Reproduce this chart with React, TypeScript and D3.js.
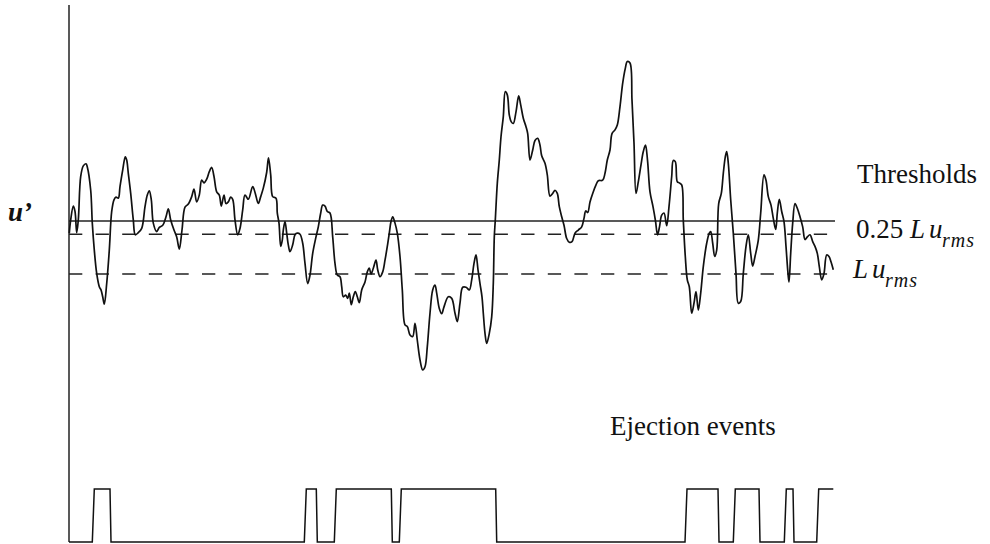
import React from "react";
import * as d3 from "d3";

// Streamwise velocity fluctuation u' (in units of L·u_rms) sampled over time
const time: number[] = [
  0.3, 1.7, 4.3, 6, 7.7, 9.3, 11.7, 14.3, 17, 18.3, 21.7, 23.3, 25.3, 27.7, 30.3, 32, 33.7, 35.3, 37.7, 40.3,
  42.7, 45, 47, 49.3, 51, 53.7, 56.3, 57.7, 59.3, 61.7, 64.3, 66.3, 69.3, 72.7, 76, 78.3, 80.3, 82.3, 84.3, 87.7,
  90.3, 93.7, 97, 99.3, 101.7, 105, 107.7, 110.3, 113, 116, 119.3, 122.7, 125, 127.7, 130.3, 132.7, 135, 137.7, 140.3, 142.7,
  145, 147.7, 150.3, 152.3, 155, 157, 159.3, 161.7, 163.7, 166, 168.7, 171, 173.7, 176, 179.3, 183.7, 186.3, 189.3, 191.7, 194.3,
  197.7, 199.5, 201.7, 203.7, 207, 208.3, 210, 211.7, 213.3, 214.3, 216, 217.7, 219.3, 221, 223.7, 226, 228.3, 231, 233.7, 236,
  238.7, 241, 243.7, 247, 249.3, 251.7, 253.7, 256, 258.3, 261, 263.7, 266, 268.3, 271, 272.7, 274.3, 276.7, 278.7, 280.3, 282.3,
  284.3, 286.3, 288.3, 290.3, 292.7, 296, 298.3, 300.3, 302, 304.3, 307, 308.7, 311, 313.7, 316, 318.3, 320.3, 322, 323.7, 326,
  328.3, 331, 333.3, 336, 338.3, 341, 343.7, 346, 348.3, 351, 353.7, 356, 358.3, 361, 363.7, 366, 367.7, 370.3, 372.7, 375,
  379.3, 382.7, 386, 388.3, 391, 393.7, 397, 400.3, 402.7, 405, 407, 409, 411, 413, 414.3, 416, 417.7, 420.3, 422.7, 424.3,
  425.3, 426.3, 428.3, 430.3, 432, 434.3, 436.3, 438.3, 440.3, 442.3, 444.3, 447, 449.7, 451.7, 454.3, 457, 458.7, 461, 463.7, 466,
  468.7, 471, 472.7, 476, 478.3, 481, 483.7, 486, 488.3, 490.3, 492.7, 495, 497.7, 500.3, 503, 506, 509.3, 512.7, 515, 516.7,
  518.7, 521, 523.7, 527, 529.3, 533.7, 536, 538.3, 541, 543, 546, 548.3, 551, 553.7, 556.3, 558.3, 561, 563, 565, 567,
  569.3, 572, 574.3, 576.5, 578.5, 581, 584, 586.5, 588.5, 590.5, 592.7, 595, 597.7, 600, 602.7, 604.3, 606.3, 608.3, 610.3, 612.7,
  614.3, 616.3, 618.3, 620.3, 622.7, 625, 627, 629.3, 631.7, 634.3, 637.7, 640.3, 641.7, 643.7, 645.7, 647.7, 649.7, 652.3, 654.3, 656.3,
  657.7, 659.3, 661.7, 664.3, 667, 669.3, 671.7, 674.3, 677, 679.3, 681.7, 683.7, 686, 689.3, 691.7, 695, 697, 699.3, 702, 704.3,
  706.7, 708.3, 710.3, 712.7, 715, 717, 719, 720, 721.7, 723.7, 726, 728.3, 731, 733.7, 736, 738.3, 741, 743.7, 746, 748.3,
  750.3, 752.7, 755, 757.7, 760, 762, 764.3,
];

const uPrime: number[] = [
  -0.23, 0.02, 0.28, 0.18, -0.22, 0.02, 0.84, 1.04, 1.08, 1.02, 0.58, -0.04, -0.55, -0.99, -1.24, -1.3, -1.43, -1.57, -1.18, -0.55,
  0.18, 0.4, 0.45, 0.43, 0.65, 0.96, 1.21, 1.15, 0.9, 0.52, 0.02, -0.26, -0.22, -0.14, 0.27, 0.49, 0.57, 0.4, -0.04, -0.2,
  -0.12, -0.08, 0.08, 0.23, 0.02, -0.17, -0.3, -0.53, -0.17, 0.26, 0.32, 0.46, 0.6, 0.36, 0.49, 0.77, 0.72, 0.79, 0.93, 1.01,
  0.84, 0.55, 0.49, 0.28, 0.49, 0.33, 0.36, 0.45, 0.41, 0.02, -0.26, -0.14, 0.21, 0.49, 0.41, 0.65, 0.52, 0.33, 0.46, 0.62,
  0.92, 1.19, 0.87, 0.46, 0.43, 0.15, -0.04, -0.48, -0.36, -0.17, -0.01, -0.23, -0.45, -0.58, -0.45, -0.26, -0.23, -0.25, -0.42, -0.8,
  -1.18, -1.02, -0.61, -0.3, -0.11, 0.15, 0.3, 0.28, 0.18, 0.15, -0.3, -0.8, -1.02, -1.05, -1.24, -1.43, -1.4, -1.46, -1.36, -1.58,
  -1.43, -1.33, -1.43, -1.54, -1.3, -1.15, -0.96, -0.89, -1.0, -0.89, -0.74, -0.92, -1.05, -0.96, -0.74, -0.48, -0.23, -0.01, 0.08, -0.04,
  -0.23, -0.67, -1.3, -1.96, -1.99, -2.15, -2.18, -1.93, -2.25, -2.62, -2.81, -2.75, -2.37, -1.74, -1.3, -1.21, -1.36, -1.65, -1.75, -1.62,
  -1.43, -1.46, -1.74, -1.9, -1.55, -1.25, -1.25, -1.3, -1.11, -0.8, -0.64, -0.92, -1.18, -1.43, -1.74, -2.12, -2.31, -2.12, -1.81, -1.18,
  -0.3, 0.02, 0.71, 1.15, 1.59, 1.97, 2.44, 2.38, 2.0, 1.87, 1.84, 2.06, 2.36, 2.19, 1.94, 1.78, 1.65, 1.15, 1.34, 1.52,
  1.56, 1.43, 1.23, 1.09, 0.87, 0.47, 0.52, 0.58, 0.52, 0.27, 0.08, -0.08, -0.33, -0.4, -0.39, -0.23, -0.17, -0.11, 0.05, 0.19,
  0.16, 0.36, 0.52, 0.68, 0.76, 0.77, 0.9, 1.15, 1.34, 1.65, 1.72, 1.81, 2.16, 2.6, 2.88, 3.01, 2.98, 2.28, 1.47, 0.52,
  0.74, 1.06, 1.31, 1.43, 1.15, 0.55, 0.27, 0.0, -0.26, -0.11, 0.11, 0.15, -0.09, 0.27, 0.84, 1.14, 1.12, 0.74, 0.72, 0.68,
  0.02, -0.67, -1.11, -1.24, -1.74, -1.55, -1.33, -1.68, -1.36, -0.86, -0.42, -0.23, -0.2, -0.42, -0.67, -0.55, 0.33, 0.52, 0.9, 1.21,
  1.31, 1.09, 0.4, -0.23, -0.99, -1.55, -1.52, -0.99, -0.48, -0.26, -0.61, -0.85, -0.67, -0.36, 0.15, 0.87, 0.77, 0.46, 0.3, 0.05,
  -0.16, 0.15, 0.41, 0.18, -0.01, -0.48, -0.99, -1.15, -0.61, -0.04, 0.33, 0.24, 0.08, -0.11, -0.35, -0.3, -0.26, -0.39, -0.48, -0.61,
  -0.86, -1.11, -0.99, -0.64, -0.67, -0.77, -0.92,
];

// Detection thresholds, as multiples of L·u_rms
const thresholdLevels: number[] = [-0.25, -1];

// Detected ejection events: start and end times
const eventStart: number[] = [23.3, 235.3, 265.3, 330.3, 616, 664.3, 715.3, 747.7];
const eventEnd: number[] = [42, 248.3, 323.3, 427.7, 650, 691, 725, 764.3];

const W = 990;
const H = 544;
const tMax = 764.3;

export default function App() {
  const x = d3.scaleLinear().domain([0, tMax]).range([69, 833.3]);
  const y = d3.scaleLinear().domain([-3, 3]).range([380, 62]);
  const yEvt = d3.scaleLinear().domain([0, 1]).range([542, 489]);

  const signal = d3
    .line<number>()
    .x((_, i) => x(time[i]))
    .y((d) => y(d))
    .curve(d3.curveCatmullRom.alpha(0.5))(uPrime);

  // Binary event signal: 0 outside events, 1 inside, with a short rise/fall
  const evtPts: [number, number][] = [[0, 0]];
  eventStart.forEach((s, i) => {
    const e = eventEnd[i];
    const open = e >= tMax;
    evtPts.push([s, 0], [s + 2, 1]);
    if (open) {
      evtPts.push([e, 1]);
    } else {
      evtPts.push([e - 1, 1], [e, 0]);
    }
  });
  if (eventEnd[eventEnd.length - 1] < tMax) evtPts.push([tMax, 0]);
  const evtLine = d3
    .line<[number, number]>()
    .x((d) => x(d[0]))
    .y((d) => yEvt(d[1]))(evtPts);

  const serif = "'Liberation Serif', 'Times New Roman', serif";

  return (
    <svg
      width={W}
      height={H}
      viewBox={`0 0 ${W} ${H}`}
      style={{ position: "absolute", left: 0, top: 0, background: "#fff" }}
    >
      {/* vertical axis */}
      <line x1={x(0)} x2={x(0)} y1={5} y2={542} stroke="#222" strokeWidth={1.5} />

      {/* zero line */}
      <line x1={x(0)} x2={835} y1={y(0)} y2={y(0)} stroke="#222" strokeWidth={1.4} />

      {/* threshold lines */}
      {thresholdLevels.map((lv) => (
        <line
          key={lv}
          x1={x(0)}
          x2={830}
          y1={y(lv)}
          y2={y(lv)}
          stroke="#222"
          strokeWidth={1.4}
          strokeDasharray="13.3 13.3"
        />
      ))}

      {/* u' signal */}
      <path d={signal ?? ""} fill="none" stroke="#111" strokeWidth={1.7} strokeLinejoin="round" />

      {/* event signal */}
      <path d={evtLine ?? ""} fill="none" stroke="#111" strokeWidth={1.5} />

      {/* labels */}
      <text x={8} y={221} fontFamily={serif} fontStyle="italic" fontWeight="bold" fontSize={27} fill="#111">
        u’
      </text>
      <text x={857} y={183} fontFamily={serif} fontSize={27} fill="#111">
        Thresholds
      </text>
      <text y={238} fontFamily={serif} fontSize={27} fill="#111">
        <tspan x={856}>0.25</tspan>
        <tspan x={910} fontStyle="italic">L</tspan>
        <tspan x={929} fontStyle="italic">u</tspan>
        <tspan x={942} dy={8.7} fontStyle="italic" fontSize={20} letterSpacing={1}>rms</tspan>
      </text>
      <text y={278} fontFamily={serif} fontSize={27} fill="#111">
        <tspan x={853} fontStyle="italic">L</tspan>
        <tspan x={872} fontStyle="italic">u</tspan>
        <tspan x={885} dy={8.7} fontStyle="italic" fontSize={20} letterSpacing={1}>rms</tspan>
      </text>
      <text x={610} y={435} fontFamily={serif} fontSize={27} fill="#111">
        Ejection events
      </text>
    </svg>
  );
}
